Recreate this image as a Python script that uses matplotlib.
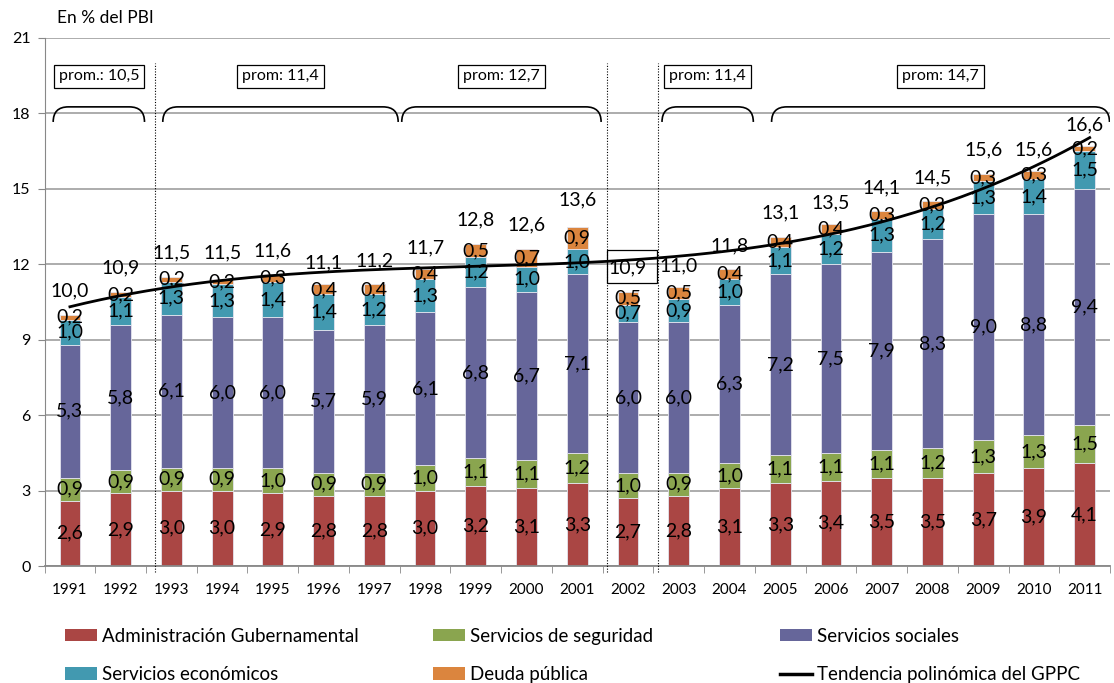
import numpy as np
import matplotlib
matplotlib.use("Agg")
import matplotlib.pyplot as plt
from matplotlib.path import Path
from matplotlib.patches import PathPatch, Patch, Rectangle
from matplotlib.lines import Line2D

plt.rcParams['font.family'] = ['Lato', 'DejaVu Sans']

years = list(range(1991, 2012))
admin = [2.6, 2.9, 3.0, 3.0, 2.9, 2.8, 2.8, 3.0, 3.2, 3.1, 3.3, 2.7, 2.8, 3.1, 3.3, 3.4, 3.5, 3.5, 3.7, 3.9, 4.1]
seguridad = [0.9, 0.9, 0.9, 0.9, 1.0, 0.9, 0.9, 1.0, 1.1, 1.1, 1.2, 1.0, 0.9, 1.0, 1.1, 1.1, 1.1, 1.2, 1.3, 1.3, 1.5]
sociales = [5.3, 5.8, 6.1, 6.0, 6.0, 5.7, 5.9, 6.1, 6.8, 6.7, 7.1, 6.0, 6.0, 6.3, 7.2, 7.5, 7.9, 8.3, 9.0, 8.8, 9.4]
economicos = [1.0, 1.1, 1.3, 1.3, 1.4, 1.4, 1.2, 1.3, 1.2, 1.0, 1.0, 0.7, 0.9, 1.0, 1.1, 1.2, 1.3, 1.2, 1.3, 1.4, 1.5]
deuda = [0.2, 0.2, 0.2, 0.2, 0.3, 0.4, 0.4, 0.4, 0.5, 0.7, 0.9, 0.5, 0.5, 0.4, 0.4, 0.4, 0.3, 0.3, 0.3, 0.3, 0.2]
totales = [10.0, 10.9, 11.5, 11.5, 11.6, 11.1, 11.2, 11.7, 12.8, 12.6, 13.6, 10.9, 11.0, 11.8, 13.1, 13.5, 14.1, 14.5, 15.6, 15.6, 16.6]

series = [
    ("Administración Gubernamental", admin, "#AA4644"),
    ("Servicios de seguridad", seguridad, "#8AA54F"),
    ("Servicios sociales", sociales, "#66669A"),
    ("Servicios económicos", economicos, "#4299B0"),
    ("Deuda pública", deuda, "#DB853E"),
]

# sub-periods: (first year, last year, average label)
periodos = [(1991, 1992, "prom.: 10,5"), (1993, 1997, "prom: 11,4"), (1998, 2001, "prom: 12,7"),
            (2003, 2004, "prom: 11,4"), (2005, 2011, "prom: 14,7")]
# dotted separators (slightly right of the category boundary)
cortes = [1992.67, 2001.58, 2002.6]

fig = plt.figure(figsize=(11.14, 6.83), dpi=100)
ax = fig.add_axes([0.040, 0.1713, 0.9564, 0.7731])

x = np.arange(len(years))
bottom = np.zeros(len(years))
for nombre, vals, color in series:
    vals = np.array(vals)
    ax.bar(x, vals, 0.41, bottom=bottom, color=color, edgecolor="#E4E4EE", linewidth=0.6,
           label=nombre, zorder=2)
    for xi, b, v in zip(x, bottom, vals):
        ax.text(xi, b + v / 2, f"{v:.1f}".replace(".", ","), ha="center", va="center",
                fontsize=14, zorder=4)
    bottom += vals

# polynomial trend of the totals
coef = np.polyfit(x, totales, 3)
xs = np.linspace(0, len(years) - 1 + 0.1, 200)
ax.plot(xs, np.polyval(coef, xs), color="black", lw=2, zorder=3)

for xi, t in zip(x, totales):
    ax.text(xi, t + 0.95, f"{t:.1f}".replace(".", ","), ha="center", va="center",
            fontsize=14, zorder=5)

i02 = years.index(2002)
ax.add_patch(Rectangle((i02 - 0.42, totales[i02] + 0.35), 1, 1.3, fill=False,
                       edgecolor="black", lw=0.9, zorder=5))

for c in cortes:
    xc = c - years[0]
    ax.plot([xc, xc], [-0.25, 20.0], color="black", lw=0.8, ls=(0, (1, 1.5)),
            clip_on=False, zorder=3)

# braces and average boxes
yt, yb, dx = 18.26, 17.66, 0.3
for y0, y1, txt in periodos:
    a = y0 - years[0] - 0.33
    b = y1 - years[0] + 0.5 - 0.03 if y1 != 2011 else y1 - years[0] + 0.49
    if y0 in (1993, 2005):
        a = y0 - years[0] - 0.17
    if y0 == 1998:
        a = y0 - years[0] - 0.46
    verts = [(a, yb), (a, yt), (a + dx, yt), (b - dx, yt), (b, yt), (b, yb)]
    codes = [Path.MOVETO, Path.CURVE3, Path.CURVE3, Path.LINETO, Path.CURVE3, Path.CURVE3]
    ax.add_patch(PathPatch(Path(verts, codes), fill=False, lw=1.2, edgecolor="black", zorder=3))
    ax.text((a + b) / 2, 19.47, txt, ha="center", va="center", fontsize=11.5,
            bbox=dict(boxstyle="square,pad=0.3", fc="white", ec="black", lw=0.9), zorder=5)

ax.set_xlim(-0.5, len(years) - 0.5)
ax.set_ylim(0, 21)
ax.set_yticks(range(0, 22, 3))
ax.set_xticks(x)
ax.set_xticklabels([str(y) for y in years])
ax.set_xticks(np.arange(-0.5, len(years), 1), minor=True)
ax.tick_params(axis="x", which="major", length=0, pad=12, labelsize=11)
ax.tick_params(axis="x", which="minor", length=5, color="#888888", direction="out")
ax.tick_params(axis="y", length=5, color="#888888", pad=5, labelsize=11.5)
ax.grid(axis="y", color="#A6A6A6", lw=1.3, zorder=0)
ax.set_axisbelow(True)
for s in ("top", "right"):
    ax.spines[s].set_visible(False)
ax.spines["left"].set_color("#888888")
ax.spines["bottom"].set_color("#888888")
ax.spines["bottom"].set_linewidth(1.3)

fig.text(0.051, 0.973, "En % del PBI", fontsize=12.5, va="center", ha="left")

# legend in three columns
h = [Patch(facecolor=c, edgecolor="none", label=n) for n, _, c in series]
h.append(Line2D([], [], color="black", lw=2.5, label="Tendencia polinómica del GPPC"))
columnas = [(h[0], h[3], 0.0583), (h[1], h[4], 0.3887), (h[2], h[5], 0.7002)]
for h1, h2, xl in columnas:
    fig.legend(handles=[h1, h2], loc="upper left", bbox_to_anchor=(xl, 0.081),
               frameon=False, fontsize=13.5, handlelength=1.7, handleheight=0.64,
               handletextpad=0.25, labelspacing=1.15, borderaxespad=0, borderpad=0)

fig.savefig("out.png", dpi=100)
